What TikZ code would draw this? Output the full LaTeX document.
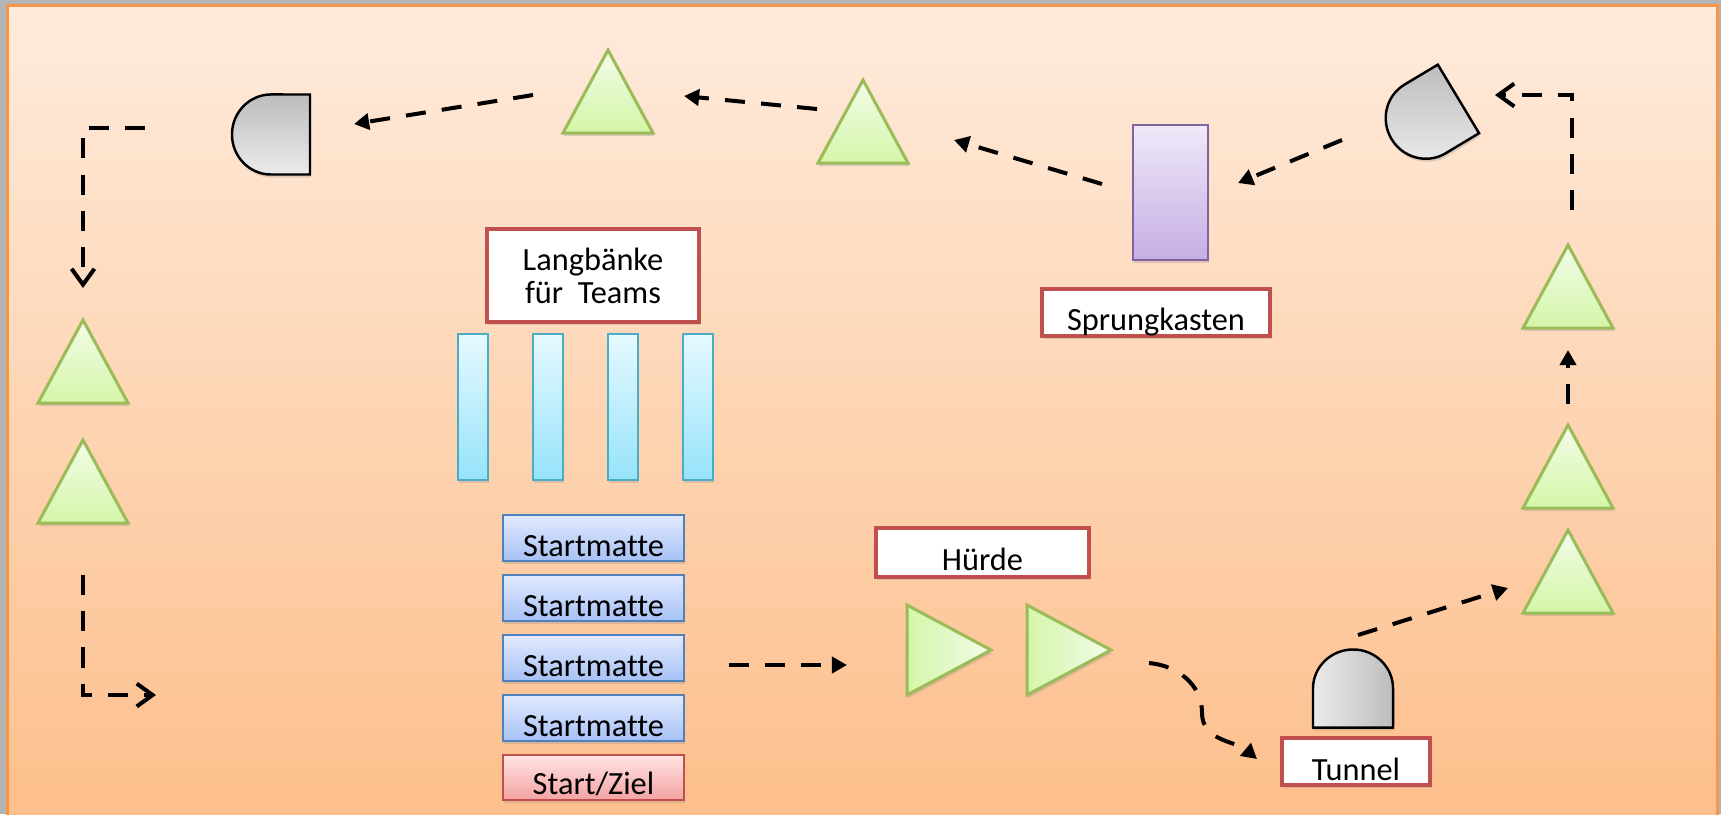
\documentclass[tikz,border=0pt]{standalone}
\usepackage{fontspec}
\setmainfont{Carlito}[Ligatures=NoCommon]
\usetikzlibrary{arrows.meta,positioning,shadows}

\definecolor{outergray}{HTML}{B4B4B4}
\definecolor{frameorange}{HTML}{F79646}
\definecolor{paneltop}{HTML}{FEEBDC}
\definecolor{panelbot}{HTML}{FDBE8A}
\definecolor{conetop}{HTML}{F2FCE9}
\definecolor{conebot}{HTML}{D4F6A8}
\definecolor{coneline}{HTML}{9BBB59}
\definecolor{benchtop}{HTML}{E6F9FF}
\definecolor{benchbot}{HTML}{96E3FA}
\definecolor{benchline}{HTML}{4BACC6}
\definecolor{mattop}{HTML}{E2EAFE}
\definecolor{matbot}{HTML}{A6C1F6}
\definecolor{matline}{HTML}{4F81BD}
\definecolor{goaltop}{HTML}{FFE4E4}
\definecolor{goalbot}{HTML}{F4A2A2}
\definecolor{redline}{HTML}{C0504D}
\definecolor{boxtop}{HTML}{EFE9F9}
\definecolor{boxbot}{HTML}{C5AEE3}
\definecolor{boxline}{HTML}{8064A2}

\tikzset{
  every node/.style={font=\fontsize{9.2}{9.4}\selectfont},
  softshadow/.style={drop shadow={shadow xshift=0.3pt,shadow yshift=-0.9pt,opacity=0.25}},
  labelbox/.style={draw=redline,line width=1.3pt,fill=white,inner sep=0pt,softshadow},
  matbox/.style={draw=matline,line width=0.7pt,top color=mattop,bottom color=matbot,outer sep=0pt,
    inner sep=0pt,minimum width=1.81cm,minimum height=0.46cm,text height=0.41cm,text depth=0.05cm,softshadow},
  benchbox/.style={draw=benchline,line width=0.6pt,top color=benchtop,bottom color=benchbot,outer sep=0pt,
    inner sep=0pt,minimum width=0.3cm,minimum height=1.46cm,softshadow},
  conefill/.style={draw=coneline,line width=0.85pt,top color=conetop,bottom color=conebot,line join=miter,softshadow},
  hurdlefill/.style={draw=coneline,line width=0.85pt,left color=conebot,right color=conetop,softshadow},
  domeline/.style={draw=black,line width=0.7pt,softshadow},
  route/.style={draw=black,line width=1.14pt,dash pattern=on 5.7pt off 4.6pt,-{Triangle[length=4.3pt,width=4.6pt]}},
  routeopen/.style={draw=black,line width=1.14pt,dash pattern=on 5.7pt off 4.6pt,-{Straight Barb[length=4.5pt,width=6.5pt]}},
  pics/cone/.style={code={\path[conefill] (-45,-41.5) -- (0,41.5) -- (45,-41.5) -- cycle;}},
  pics/hurdle/.style={code={\path[hurdlefill] (-42,45) -- (42,0) -- (-42,-45) -- cycle;}},
  pics/dome/.style={code={\path[domeline,#1] (-40,-39) -- (-40,0)
      arc[start angle=180,end angle=0,x radius=0.4cm,y radius=0.39cm] -- (40,-39) -- cycle;}},
}

\begin{document}
\begin{tikzpicture}[x=0.01cm,y=0.01cm]
\useasboundingbox (0,0) rectangle (1721,-814);
\fill[outergray] (0,0) rectangle (1721,-814);
\draw[frameorange,line width=0.85pt,top color=paneltop,bottom color=panelbot] (7.5,-5.5) rectangle (1717.5,-830);

% cones along the track
\pic at (608,-91.5) {cone};
\pic at (863,-121.5) {cone};
\pic at (83,-361.5) {cone};
\pic at (83,-481.5) {cone};
\pic at (1568,-286.5) {cone};
\pic at (1568,-466.5) {cone};
\pic at (1568,-571.5) {cone};

% hurdles
\pic at (949,-650) {hurdle};
\pic at (1069,-650) {hurdle};

% domes and tunnel
\pic[rotate=90] at (271,-134.5) {dome={top color=black!26,bottom color=black!8}};
\pic[rotate=121] at (1425,-119) {dome={top color=black!26,bottom color=black!8}};
\pic at (1353,-688.5) {dome={left color=black!8,right color=black!26}};

% box and labels
\node[draw=boxline,line width=0.6pt,top color=boxtop,bottom color=boxbot,inner sep=0pt,
  minimum width=0.75cm,minimum height=1.35cm,softshadow] (kasten) at (1170.5,-192.5) {};
\node[labelbox,minimum width=2.28cm,minimum height=0.47cm,text height=0.41cm,text depth=0.06cm]
  (sprung) at (1156,-312.5) {Sprungkasten};
\node[labelbox,minimum width=2.13cm,minimum height=0.49cm,text height=0.42cm,text depth=0.07cm]
  (huerde) at (982.5,-552.5) {Hürde};
\node[labelbox,minimum width=1.48cm,minimum height=0.47cm,text height=0.42cm,text depth=0.05cm]
  (tunnel) at (1356,-761.5) {Tunnel};
\node[labelbox,minimum width=2.12cm,minimum height=0.93cm,align=center]
  (langbank) at (593,-275.5) {Langbänke\\für\ \ Teams};

% benches
\node[benchbox] (bench1) at (473,-407) {};
\node[benchbox,right=0.45cm of bench1] (bench2) {};
\node[benchbox,right=0.45cm of bench2] (bench3) {};
\node[benchbox,right=0.45cm of bench3] (bench4) {};

% start mats
\node[matbox] (mat1) at (593.5,-538) {Startmatte};
\node[matbox,below=0.14cm of mat1] (mat2) {Startmatte};
\node[matbox,below=0.14cm of mat2] (mat3) {Startmatte};
\node[matbox,below=0.14cm of mat3] (mat4) {Startmatte};
\node[matbox,draw=redline,top color=goaltop,bottom color=goalbot,minimum height=0.45cm,
  text height=0.39cm,text depth=0.06cm,below=0.14cm of mat4] (goal) {Start/Ziel};

% route
\coordinate (r1a) at (729,-665);   \coordinate (r1b) at (847,-665);
\coordinate (r2a) at (1149,-663);  \coordinate (r2m) at (1202,-713);  \coordinate (r2b) at (1257,-759);
\coordinate (r3a) at (1358,-635);  \coordinate (r3b) at (1508,-588);
\coordinate (r4a) at (1568,-404);  \coordinate (r4b) at (1568,-350);
\coordinate (r5a) at (1572,-210);  \coordinate (r5m) at (1572,-95);   \coordinate (r5b) at (1495,-95);
\coordinate (r6a) at (1342,-140);  \coordinate (r6b) at (1238,-183);
\coordinate (r7a) at (1102,-184);  \coordinate (r7b) at (954,-140);
\coordinate (r8a) at (817,-109);   \coordinate (r8b) at (684,-96);
\coordinate (r9a) at (533,-95);    \coordinate (r9b) at (354,-124);
\coordinate (r10a) at (145,-128);  \coordinate (r10m) at (83,-128);  \coordinate (r10b) at (83,-288);
\coordinate (r11a) at (83,-575);   \coordinate (r11m) at (83,-695);  \coordinate (r11b) at (156,-695);

\draw[route] (r1a) -- (r1b);
\draw[route] (r2a) to[out=-5,in=90] (r2m) to[out=-90,in=140] (r2b);
\draw[route] (r3a) -- (r3b);
\draw[route] (r4a) -- (r4b);
\draw[routeopen] (r5a) -- (r5m) -- (r5b);
\draw[route] (r6a) -- (r6b);
\draw[route] (r7a) -- (r7b);
\draw[route] (r8a) -- (r8b);
\draw[route] (r9a) -- (r9b);
\draw[routeopen] (r10a) -- (r10m) -- (r10b);
\draw[routeopen] (r11a) -- (r11m) -- (r11b);
\end{tikzpicture}
\end{document}
